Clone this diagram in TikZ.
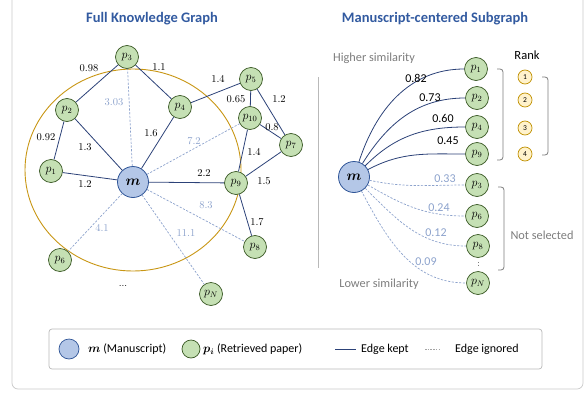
\documentclass[tikz,border=0pt]{standalone}
\usepackage{bm}
\usepackage{fontspec}
\setsansfont{Carlito}
\definecolor{titleblue}{RGB}{50,90,160}
\definecolor{kept}{RGB}{44,66,120}
\definecolor{ignored}{RGB}{140,162,204}
\definecolor{pfill}{RGB}{197,224,180}
\definecolor{pstroke}{RGB}{56,87,35}
\definecolor{mfill}{RGB}{180,199,231}
\definecolor{mstroke}{RGB}{47,85,151}
\definecolor{ringcol}{RGB}{200,150,20}
\definecolor{graytext}{RGB}{125,125,125}
\definecolor{rankfill}{RGB}{255,242,204}
\definecolor{rankstroke}{RGB}{191,144,0}
\definecolor{framecol}{RGB}{200,200,200}
\tikzset{
  pnode/.style={circle,draw=pstroke,fill=pfill,line width=0.7pt,minimum size=23pt,inner sep=0pt,font=\fontsize{12}{14}\selectfont},
  mnode/.style={circle,draw=mstroke,fill=mfill,line width=0.8pt,minimum size=31pt,inner sep=0pt,font=\fontsize{13.5}{15}\selectfont},
  keptedge/.style={draw=kept,line width=0.8pt},
  ignedge/.style={draw=ignored,line width=0.7pt,dash pattern=on 2.2pt off 1.5pt},
  wlab/.style={font=\fontsize{10.5}{12}\selectfont,text=black,inner sep=0pt},
  wlabg/.style={font=\fontsize{10.5}{12}\selectfont,text=ignored,inner sep=0pt},
  slab/.style={font=\sffamily\fontsize{12}{14}\selectfont,text=black,inner sep=0pt},
  slabg/.style={font=\sffamily\fontsize{12}{14}\selectfont,text=ignored,inner sep=0pt},
  titlestyle/.style={font=\sffamily\bfseries\fontsize{14.5}{16}\selectfont,text=titleblue},
  graylab/.style={font=\sffamily\fontsize{12.3}{14}\selectfont,text=graytext},
  ranknode/.style={circle,draw=rankstroke,fill=rankfill,line width=0.7pt,minimum size=14pt,inner sep=0pt,font=\sffamily\fontsize{7.5}{8}\selectfont},
  bracketline/.style={draw=graytext,line width=0.8pt,rounded corners=3pt},
  legtext/.style={font=\sffamily\fontsize{12}{14}\selectfont,inner sep=0pt,anchor=west}
}
\begin{document}
\begin{tikzpicture}[x=1pt,y=1pt]
\useasboundingbox (0,0) rectangle (585,-396);
% outer frame
\draw[framecol,line width=0.7pt,rounded corners=6pt] (12,10) rectangle (583,-389);
% separator
\draw[framecol!80!gray,line width=0.9pt] (318,-77) -- (318,-268);

% titles
\node[titlestyle] (t1) at (152,-19) {Full Knowledge Graph};
\node[titlestyle] (t2) at (435,-19) {Manuscript-centered Subgraph};

% ring
\draw[ringcol,line width=0.9pt] (133,-170) ellipse [x radius=108, y radius=101];

% left graph nodes
\node[mnode] (m) at (133,-182) {$\bm{m}$};
\node[pnode] (p3) at (127,-57) {$p_3$};
\node[pnode] (p2) at (67,-110) {$p_2$};
\node[pnode] (p4) at (180,-107) {$p_4$};
\node[pnode] (p5) at (251,-79) {$p_5$};
\node[pnode] (p10) at (250,-118) {$p_{10}$};
\node[pnode] (p7) at (291,-145) {$p_7$};
\node[pnode] (p1) at (51,-171) {$p_1$};
\node[pnode] (p9) at (236,-183) {$p_9$};
\node[pnode] (p8) at (255,-247) {$p_8$};
\node[pnode] (p6) at (60,-260) {$p_6$};
\node[pnode] (pN) at (211,-294) {$p_N$};
\node[font=\fontsize{10}{12}\selectfont] (dots) at (123,-286) {...};

% kept edges
\draw[keptedge] (p3) -- (p2);
\draw[keptedge] (p3) -- (p4);
\draw[keptedge] (p4) -- (p5);
\draw[keptedge] (p5) -- (p10);
\draw[keptedge] (p5) -- (p7);
\draw[keptedge] (p10) -- (p7);
\draw[keptedge] (p10) -- (p9);
\draw[keptedge] (p7) -- (p9);
\draw[keptedge] (p2) -- (p1);
\draw[keptedge] (p2) -- (m);
\draw[keptedge] (p4) -- (m);
\draw[keptedge] (p1) -- (m);
\draw[keptedge] (m) -- (p9);
\draw[keptedge] (p9) -- (p8);
% ignored edges
\draw[ignedge] (m) -- (p3);
\draw[ignedge] (m) -- (p10);
\draw[ignedge] (m) -- (p6);
\draw[ignedge] (m) -- (pN);
\draw[ignedge] (m) -- (p8);

% edge weights
\node[wlab] (w1) at (89,-68) {0.98};
\node[wlab] (w2) at (159,-67) {1.1};
\node[wlabg] (w3) at (114,-102) {3.03};
\node[wlab] (w4) at (218,-79) {1.4};
\node[wlab] (w5) at (236,-99) {0.65};
\node[wlab] (w6) at (279,-99) {1.2};
\node[wlab] (w7) at (46,-137) {0.92};
\node[wlab] (w8) at (85,-147) {1.3};
\node[wlab] (w9) at (151,-133) {1.6};
\node[wlabg] (w10) at (194,-141) {7.2};
\node[wlab] (w11) at (272,-127) {0.8};
\node[wlab] (w12) at (254,-152) {1.4};
\node[wlab] (w13) at (85,-184) {1.2};
\node[wlab] (w14) at (204,-173) {2.2};
\node[wlab] (w15) at (264,-181) {1.5};
\node[wlabg] (w16) at (206,-205) {8.3};
\node[wlab] (w17) at (257,-222) {1.7};
\node[wlabg] (w18) at (102,-228) {4.1};
\node[wlabg] (w19) at (186,-233) {11.1};

% right subgraph
\node[graylab] (hs) at (374,-58) {Higher similarity};
\node[graylab] (ls) at (379,-284) {Lower similarity};
\node[mnode] (M) at (354,-177) {$\bm{m}$};
\node[pnode] (q1) at (476,-69) {$p_1$};
\node[pnode] (q2) at (477,-98) {$p_2$};
\node[pnode] (q4) at (477,-127) {$p_4$};
\node[pnode] (q9) at (477,-154) {$p_9$};
\node[pnode] (q3) at (477,-185) {$p_3$};
\node[pnode] (q6) at (477,-216) {$p_6$};
\node[pnode] (q8) at (478,-246) {$p_8$};
\node[pnode] (qN) at (478,-283) {$p_N$};
\draw[graytext,line width=0.8pt,dotted,shorten <=4pt,shorten >=4pt] (q8) -- (qN);

\draw[keptedge] (M) to[out=72,in=180] (q1);
\draw[keptedge] (M) to[out=58,in=180] (q2);
\draw[keptedge] (M) to[out=45,in=180] (q4);
\draw[keptedge] (M) to[out=28,in=180] (q9);
\draw[ignedge] (M) to[out=-12,in=180] (q3);
\draw[ignedge] (M) to[out=-30,in=180] (q6);
\draw[ignedge] (M) to[out=-45,in=180] (q8);
\draw[ignedge] (M) to[out=-62,in=180] (qN);

\node[slab] (s1) at (416,-78) {0.82};
\node[slab] (s2) at (430,-98) {0.73};
\node[slab] (s3) at (443,-118) {0.60};
\node[slab] (s4) at (448,-141) {0.45};
\node[slabg] (s5) at (445,-179) {0.33};
\node[slabg] (s6) at (439,-208) {0.24};
\node[slabg] (s7) at (436,-233) {0.12};
\node[slabg] (s8) at (426,-262) {0.09};

% brackets
\draw[bracketline] (497,-69) -- (503,-69) -- (503,-160) -- (497,-160);
\draw[bracketline] (542,-77) -- (548,-77) -- (548,-155) -- (542,-155);
\draw[bracketline] (498,-187) -- (504,-187) -- (504,-270) -- (498,-270);

\node[font=\sffamily\fontsize{12.5}{14}\selectfont] (rank) at (527,-55) {Rank};
\node[ranknode] (r1) at (525,-77) {1};
\node[ranknode] (r2) at (525,-100) {2};
\node[ranknode] (r3) at (525,-128) {3};
\node[ranknode] (r4) at (525,-154) {4};
\node[graylab] (ns) at (542,-235) {Not selected};

% legend
\draw[framecol!80!gray,line width=0.7pt,rounded corners=3pt] (49,-329) rectangle (542,-369);
\node[circle,draw=mstroke,fill=mfill,line width=0.7pt,minimum size=20pt,inner sep=0pt] (lm) at (69,-349) {};
\node[legtext] (lmt) at (88,-349) {$\bm{m}$ (Manuscript)};
\node[circle,draw=pstroke,fill=pfill,line width=0.7pt,minimum size=18pt,inner sep=0pt] (lp) at (191,-349) {};
\node[legtext] (lpt) at (203,-349) {$\bm{p_i}$ (Retrieved paper)};
\coordinate (lk1) at (335,-349);
\coordinate (lk2) at (356,-349);
\draw[keptedge] (lk1) -- (lk2);
\node[legtext] (lkt) at (361,-349) {Edge kept};
\coordinate (li1) at (425,-349);
\coordinate (li2) at (441,-349);
\draw[draw=graytext!70,line width=0.6pt,dash pattern=on 1.5pt off 1.2pt] (li1) -- (li2);
\node[legtext] (lit) at (455,-349) {Edge ignored};
\end{tikzpicture}
\end{document}
